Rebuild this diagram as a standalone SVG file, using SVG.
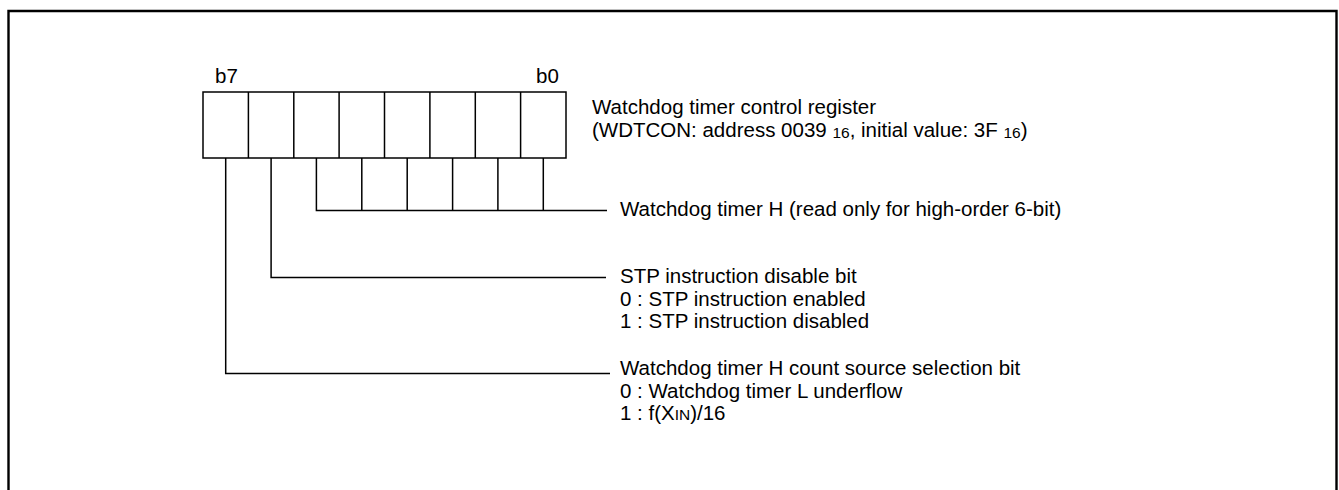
<svg xmlns="http://www.w3.org/2000/svg" width="1339" height="490" viewBox="0 0 1339 490">
<style>
  text { font-family: "Liberation Sans", Arial, sans-serif; font-size: 20.5px; fill: #000; }
  .sub { font-size: 15.5px; }
  .ln { fill: none; stroke: #000; stroke-width: 1.5; }
  .frame { fill: none; stroke: #000; stroke-width: 2.4; }
</style>
<rect x="0" y="0" width="1339" height="490" fill="#fff"/>
<path class="frame" d="M8.5,495 V11 H1336.5 V495"/>

<g id="register">
  <rect class="ln" x="203" y="92" width="363" height="66" fill="#fff"/>
  <path class="ln" d="M248.4,92 V158 M293.8,92 V158 M339.1,92 V158 M384.5,92 V158 M429.9,92 V158 M475.3,92 V158 M520.6,92 V158"/>
  <text x="215" y="83">b7</text>
  <text x="536" y="83">b0</text>
</g>

<g id="register-title">
  <text x="592" y="114">Watchdog timer control register</text>
  <text x="592" y="137">(WDTCON: address 0039 <tspan class="sub" dy="1">16</tspan><tspan dy="-1">, initial value: 3F </tspan><tspan class="sub" dy="1">16</tspan><tspan dy="-1">)</tspan></text>
</g>

<g id="connectors">
  <path class="ln" d="M316.4,158 V210.5 H607 M361.8,158 V210.5 M407.2,158 V210.5 M452.6,158 V210.5 M497.9,158 V210.5 M543.3,158 V210.5"/>
  <path class="ln" d="M271.1,158 V277.5 H606"/>
  <path class="ln" d="M225.7,158 V373.5 H610"/>
</g>

<g id="wdt-h">
  <text x="620" y="216">Watchdog timer H (read only for high-order 6-bit)</text>
</g>

<g id="stp-bit">
  <text x="620" y="283">STP instruction disable bit</text>
  <text x="620" y="305.5">0 : STP instruction enabled</text>
  <text x="620" y="328">1 : STP instruction disabled</text>
</g>

<g id="count-source-bit">
  <text x="620" y="375">Watchdog timer H count source selection bit</text>
  <text x="620" y="397.5">0 : Watchdog timer L underflow</text>
  <text x="620" y="420">1 : f(X<tspan class="sub">IN</tspan>)/16</text>
</g>
</svg>
